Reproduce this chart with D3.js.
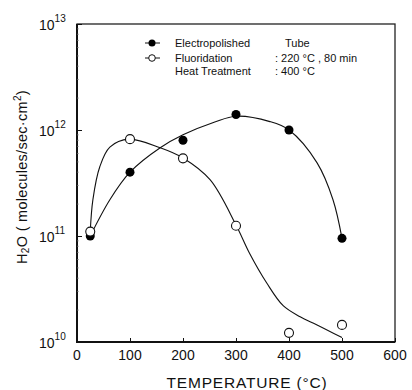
<!DOCTYPE html>
<html><head><meta charset="utf-8">
<script src="https://cdn.jsdelivr.net/npm/d3@7"></script>
<style>
body{margin:0;background:#fff;}
text{font-family:"Liberation Sans",Arial,sans-serif;fill:#111;}
</style></head>
<body><svg id="c" width="412" height="390"></svg>
<script>
// ---- data ----
const temps = [25, 100, 200, 300, 400, 500];
const electropolished = [1.0e11, 4.0e11, 8.0e11, 1.4e12, 1.0e12, 9.5e10];
const fluoridation = [1.1e11, 8.2e11, 5.4e11, 1.25e11, 1.22e10, 1.45e10];
// hand-drawn fit curves
const epCurveT = [25, 62, 100, 157, 200, 260, 300, 364, 400, 453, 483, 500];
const epCurveV = [1.0e11, 2.2e11, 4.0e11, 6.8e11, 9.0e11, 1.19e12, 1.35e12, 1.2e12, 1.0e12, 4.9e11, 2.2e11, 9.5e10];
const flCurveT = [25, 30, 43, 62, 98, 157, 200, 251, 300, 326, 358, 389, 421, 453, 500];
const flCurveV = [1.1e11, 2.2e11, 4.5e11, 6.9e11, 8.2e11, 6.8e11, 5.45e11, 3.4e11, 1.27e11, 6.8e10, 3.6e10, 2.2e10, 1.73e10, 1.45e10, 1.1e10];
const xTicks = [0, 100, 200, 300, 400, 500, 600];
const yTicks = [1e10, 1e11, 1e12, 1e13];
const yExps = ["10", "11", "12", "13"];

const svg = d3.select("#c");
const x = d3.scaleLinear().domain([0, 600]).range([77, 395]);
const y = d3.scaleLog().domain([1e10, 1e13]).range([342, 24]);

// frame
svg.append("rect").attr("x", 77).attr("y", 24).attr("width", 318).attr("height", 318)
  .attr("fill", "none").attr("stroke", "#222").attr("stroke-width", 1.3);
svg.append("line").attr("x1", 77).attr("x2", 77).attr("y1", 24).attr("y2", 343).attr("stroke", "#111").attr("stroke-width", 2);
svg.append("line").attr("x1", 76).attr("x2", 395).attr("y1", 342).attr("y2", 342).attr("stroke", "#111").attr("stroke-width", 2);

// x axis ticks (inward)
const xa = svg.append("g").attr("transform", "translate(0,342)")
  .call(d3.axisBottom(x).tickValues(xTicks).tickSize(-4).tickFormat(""));
xa.select(".domain").remove();
xa.selectAll("line").attr("stroke", "#111");
svg.selectAll(".xl").data(xTicks).enter().append("text").attr("class", "xl")
  .attr("x", d => x(d)).attr("y", 360).attr("text-anchor", "middle")
  .attr("font-size", 14).text(d => d);

// y axis ticks (inward), minor ticks
const minor = [];
for (let e = 10; e < 13; e++) for (let k = 2; k <= 9; k++) minor.push(k * Math.pow(10, e));
const ya = svg.append("g").attr("transform", "translate(77,0)")
  .call(d3.axisLeft(y).tickValues(yTicks).tickSize(-5).tickFormat(""));
ya.select(".domain").remove();
ya.selectAll("line").attr("stroke", "#111");
svg.append("g").selectAll("line").data(minor).enter().append("line")
  .attr("x1", 77).attr("x2", 79).attr("y1", d => y(d)).attr("y2", d => y(d))
  .attr("stroke", "#888").attr("stroke-width", 0.6);

const yl = svg.selectAll(".yl").data(yTicks).enter().append("text").attr("class", "yl")
  .attr("x", 39).attr("y", d => y(d) + 6).attr("font-size", 14);
yl.append("tspan").text("10");
yl.append("tspan").attr("dy", -8).attr("font-size", 10).text((d, i) => yExps[i]);

// axis titles
svg.append("text").attr("x", 247).attr("y", 388).attr("text-anchor", "middle")
  .attr("font-size", 15.5).attr("letter-spacing", 0.8).text("TEMPERATURE (°C)");
const yt = svg.append("text").attr("transform", "translate(27,177) rotate(-90)")
  .attr("text-anchor", "middle").attr("font-size", 14.5).attr("letter-spacing", 0.3);
yt.append("tspan").text("H");
yt.append("tspan").attr("font-size", 10).attr("dy", 2).text("2");
yt.append("tspan").attr("dy", -2).text("O  ( molecules/sec·cm");
yt.append("tspan").attr("font-size", 10).attr("dy", -6).text("2");
yt.append("tspan").attr("dy", 6).text(")");

// curves
const line = d3.line().x(d => x(d[0])).y(d => y(d[1])).curve(d3.curveCatmullRom.alpha(0.5));
svg.append("path").attr("d", line(epCurveT.map((t, i) => [t, epCurveV[i]])))
  .attr("fill", "none").attr("stroke", "#111").attr("stroke-width", 1.1);
svg.append("path").attr("d", line(flCurveT.map((t, i) => [t, flCurveV[i]])))
  .attr("fill", "none").attr("stroke", "#111").attr("stroke-width", 1.1);

// markers
svg.selectAll(".ep").data(temps).enter().append("circle").attr("class", "ep")
  .attr("cx", d => x(d)).attr("cy", (d, i) => y(electropolished[i])).attr("r", 4.5).attr("fill", "#000");
svg.selectAll(".fl").data(temps).enter().append("circle").attr("class", "fl")
  .attr("cx", d => x(d)).attr("cy", (d, i) => y(fluoridation[i])).attr("r", 4.5)
  .attr("fill", "#fff").attr("stroke", "#111").attr("stroke-width", 1.1);

// legend
const lg = svg.append("g");
lg.append("line").attr("x1", 145).attr("x2", 160).attr("y1", 43).attr("y2", 43).attr("stroke", "#111");
lg.append("circle").attr("cx", 152).attr("cy", 43).attr("r", 3.5).attr("fill", "#000");
lg.append("line").attr("x1", 145).attr("x2", 160).attr("y1", 58).attr("y2", 58).attr("stroke", "#111");
lg.append("circle").attr("cx", 152).attr("cy", 58).attr("r", 3.3).attr("fill", "#fff").attr("stroke", "#111");
const lt = [["Electropolished", 175, 47], ["Tube", 285, 47], ["Fluoridation", 175, 62],
  [": 220 °C , 80 min", 275, 62], ["Heat  Treatment", 175, 75], [": 400 °C", 275, 75]];
lg.selectAll("text").data(lt).enter().append("text")
  .attr("x", d => d[1]).attr("y", d => d[2]).attr("font-size", 11).text(d => d[0]);
</script></body></html>
